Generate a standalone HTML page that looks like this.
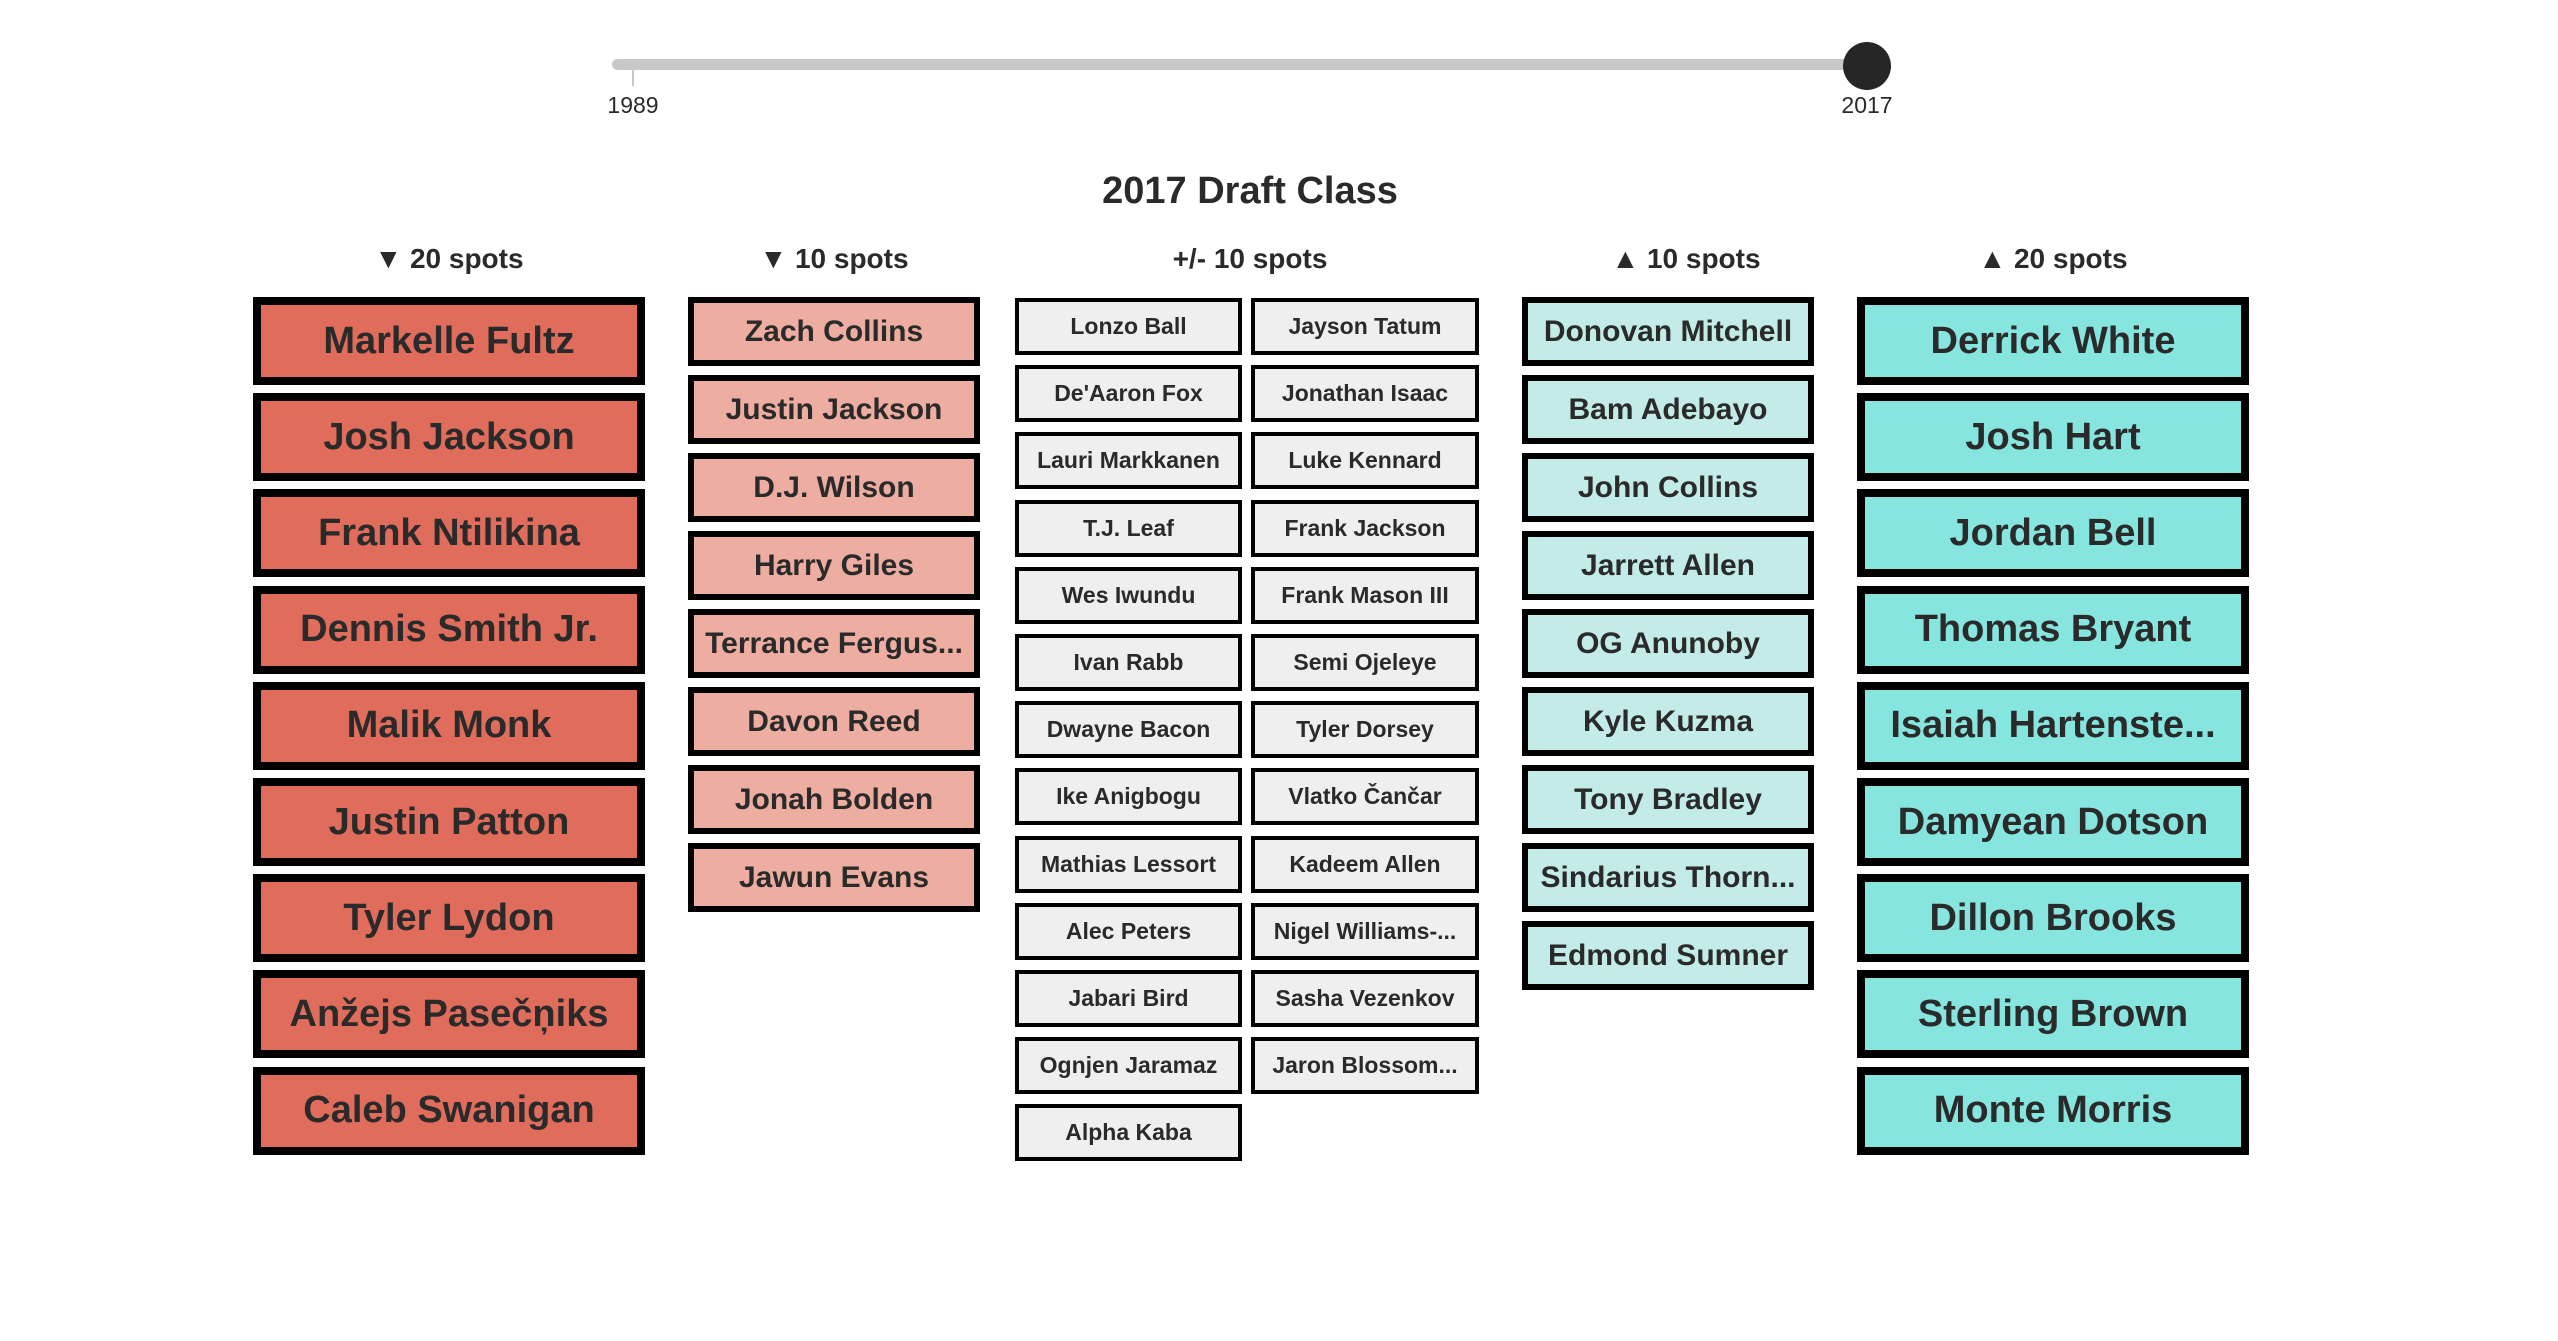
<!DOCTYPE html>
<html><head><meta charset="utf-8"><style>
body{margin:0;width:2558px;height:1341px;background:#fff;position:relative;overflow:hidden;font-family:"Liberation Sans",sans-serif;color:#2a2a2a}
.a{position:absolute}
.b{position:absolute;box-sizing:border-box;border:solid #000;display:flex;align-items:center;justify-content:center;font-weight:bold;white-space:nowrap;overflow:hidden}
.b span{overflow:hidden;max-width:100%;padding:0 2px}
.h{position:absolute;top:243px;font-size:28px;font-weight:bold;text-align:center;width:400px}
</style></head><body>
<div class="a" style="left:612px;top:59px;width:1255px;height:11px;background:#c8c8c8;border-radius:6px"></div>
<div class="a" style="left:632px;top:64px;width:2px;height:22px;background:#c8c8c8"></div>
<div class="a" style="left:1843px;top:42px;width:48px;height:48px;border-radius:50%;background:#262626"></div>
<div class="a" style="left:583px;top:92px;width:100px;text-align:center;font-size:23px">1989</div>
<div class="a" style="left:1817px;top:92px;width:100px;text-align:center;font-size:23px">2017</div>
<div class="a" style="left:1000px;top:170px;width:500px;text-align:center;font-size:38px;font-weight:900">2017 Draft Class</div>
<div class="h" style="left:249px">▼ 20 spots</div>
<div class="h" style="left:634px">▼ 10 spots</div>
<div class="h" style="left:1050px">+/- 10 spots</div>
<div class="h" style="left:1486px">▲ 10 spots</div>
<div class="h" style="left:1853px">▲ 20 spots</div>
<div id="c"></div>
<script>
function col(x,w,top,pitch,h,bw,fs,bg,names){var s='';names.forEach(function(n,i){s+='<div class="b" style="left:'+x+'px;top:'+(top+i*pitch)+'px;width:'+w+'px;height:'+h+'px;border-width:'+bw+'px;background:'+bg+';font-size:'+fs+'px"><span>'+n+'</span></div>';});return s;}
var h='';
h+=col(253,392,297,96.2,88,8,38,'#e06c5b',['Markelle Fultz','Josh Jackson','Frank Ntilikina','Dennis Smith Jr.','Malik Monk','Justin Patton','Tyler Lydon','Anžejs Pasečņiks','Caleb Swanigan']);
h+=col(688,292,297,78,69,6,30,'#eeada1',['Zach Collins','Justin Jackson','D.J. Wilson','Harry Giles','Terrance Fergus...','Davon Reed','Jonah Bolden','Jawun Evans']);
h+=col(1015,227,298,67.2,57,4,23,'#efefef',['Lonzo Ball',"De'Aaron Fox",'Lauri Markkanen','T.J. Leaf','Wes Iwundu','Ivan Rabb','Dwayne Bacon','Ike Anigbogu','Mathias Lessort','Alec Peters','Jabari Bird','Ognjen Jaramaz','Alpha Kaba']);
h+=col(1251,228,298,67.2,57,4,23,'#efefef',['Jayson Tatum','Jonathan Isaac','Luke Kennard','Frank Jackson','Frank Mason III','Semi Ojeleye','Tyler Dorsey','Vlatko Čančar','Kadeem Allen','Nigel Williams-...','Sasha Vezenkov','Jaron Blossom...']);
h+=col(1522,292,297,78,69,6,30,'#c3ece8',['Donovan Mitchell','Bam Adebayo','John Collins','Jarrett Allen','OG Anunoby','Kyle Kuzma','Tony Bradley','Sindarius Thorn...','Edmond Sumner']);
h+=col(1857,392,297,96.2,88,8,38,'#86e5df',['Derrick White','Josh Hart','Jordan Bell','Thomas Bryant','Isaiah Hartenste...','Damyean Dotson','Dillon Brooks','Sterling Brown','Monte Morris']);
document.getElementById('c').innerHTML=h;
</script>
</body></html>
